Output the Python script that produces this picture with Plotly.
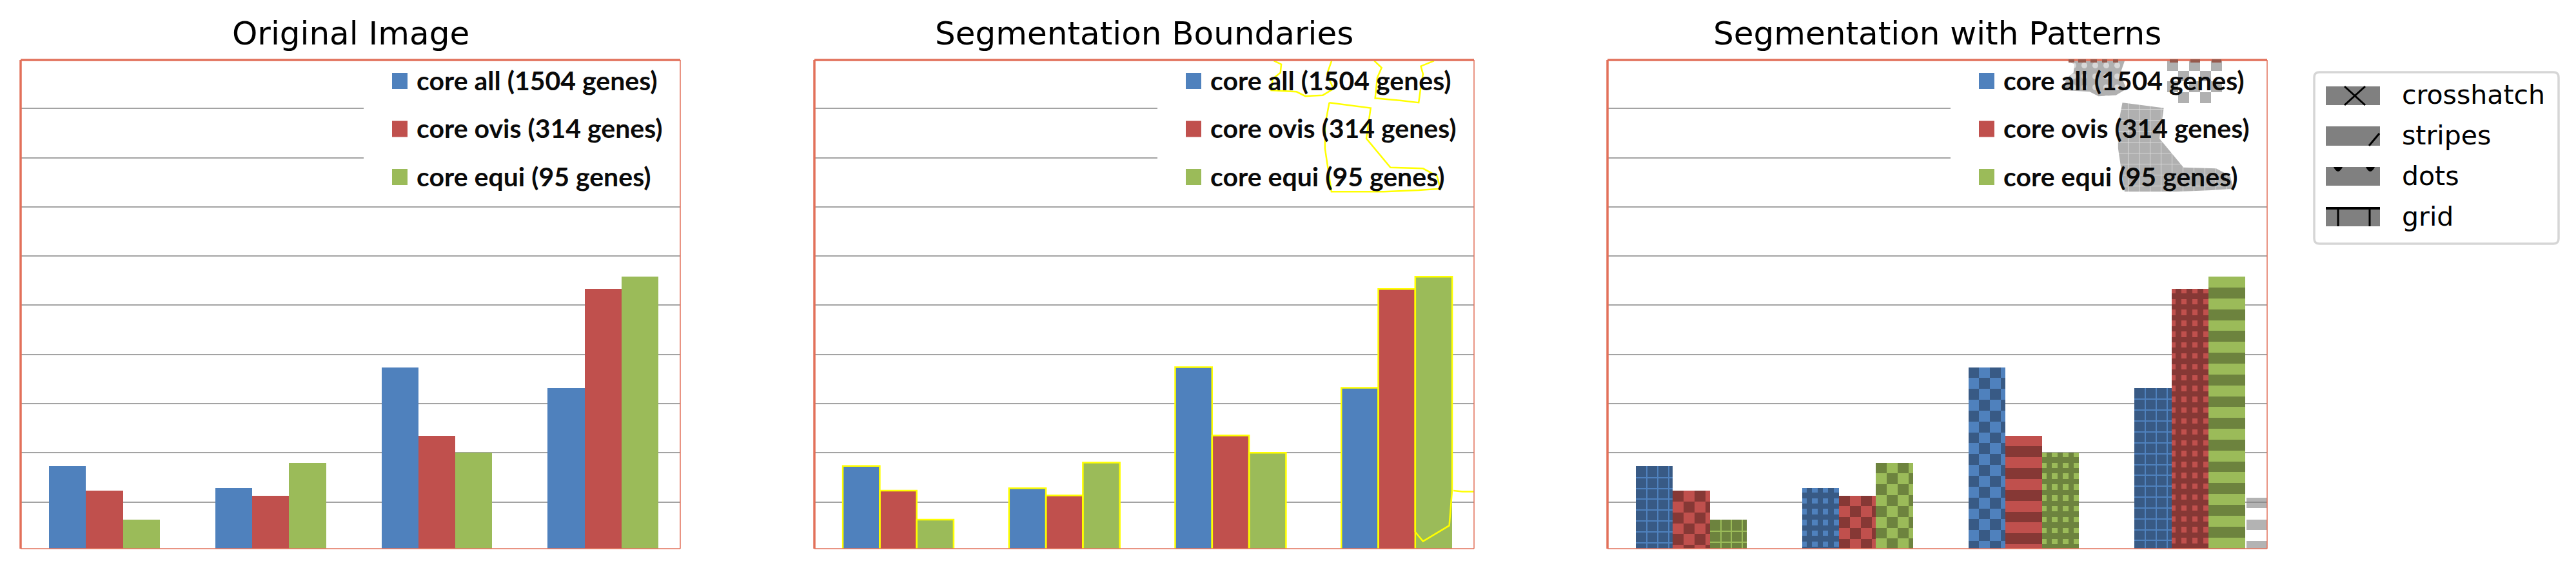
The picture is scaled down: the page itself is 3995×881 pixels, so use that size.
import plotly.graph_objects as go

# ---------- data (value axis: one unit per grid interval) ----------
GROUPS = [1, 2, 3, 4]
CORE_ALL = [1.73, 1.28, 3.74, 3.32]
CORE_OVIS = [1.23, 1.13, 2.35, 5.33]
CORE_EQUI = [0.64, 1.80, 2.00, 5.58]
SERIES_LABELS = ["core all (1504 genes)", "core ovis (314 genes)", "core equi (95 genes)"]
PATTERN_ALL = ["grid", "dots", "checker", "grid"]
PATTERN_OVIS = ["checker", "checker", "stripes", "dots"]
PATTERN_EQUI = ["grid", "checker", "dots", "stripes"]
TITLES = ["Original Image", "Segmentation Boundaries", "Segmentation with Patterns"]
KEY_LABELS = ["crosshatch", "stripes", "dots", "grid"]

# stray segments found in the legend area and at the lower right (axis units)
BLOB_A_X = [3.261, 3.305, 3.300, 3.253, 3.245, 3.319, 3.397, 3.450, 3.555, 3.619, 3.580, 3.608]
BLOB_A_Y = [9.97, 9.90, 9.73, 9.60, 9.37, 9.36, 9.34, 9.25, 9.27, 9.40, 9.70, 9.97]
BLOB_B_X = [3.865, 3.909, 3.883, 3.870, 4.027, 4.132, 4.145, 4.158, 4.145, 4.224]
BLOB_B_Y = [9.97, 9.83, 9.63, 9.21, 9.16, 9.12, 9.44, 9.70, 9.86, 9.97]
BLOB_C_X = [3.594, 3.843, 3.817, 3.962, 4.158, 4.242, 4.263, 4.132, 3.922, 3.607, 3.568, 3.568]
BLOB_C_Y = [9.12, 9.01, 8.39, 7.80, 7.78, 7.63, 7.37, 7.34, 7.31, 7.31, 8.19, 8.65]
EDGE_X = [4.341, 4.395, 4.465]
EDGE_Y = [1.23, 1.21, 1.21]
EQUI4_TAIL_X = [4.333, 4.316, 4.158, 4.111]
EQUI4_TAIL_Y = [1.23, 0.52, 0.20, 0.39]
CORNER_BAND_TOP = [1.09, 0.64, 0.21]
CORNER_BAND_BOT = [0.88, 0.43, 0.0]
CHECK_ROW = [0, 0, 0, 1, 1, 2, 2, 2, 3, 3]
CHECK_COL = [0, 2, 4, 1, 3, 0, 2, 4, 1, 3]

# ---------- style ----------
W, H = 3995, 881
PANEL_L = [32, 1263, 2493]
PANEL_W = 1023
TOP, BOT = 93, 851
X_RANGE = [0.4955, 4.465]
Y_RANGE = [0.05, 9.987]
BAR_W = 0.2223
OFFSETS = [-BAR_W, 0, BAR_W]
PX_X = PANEL_W / (X_RANGE[1] - X_RANGE[0])
PX_Y = (BOT - TOP) / (Y_RANGE[1] - Y_RANGE[0])
CELL = 16.85
LIGHT = ["#4f81bd", "#c0504d", "#9bbb59"]
DARK = ["#385a85", "#863835", "#6d833e"]
FRAME = "#e2705a"
GRID = "#a3a3a3"
YELLOW = "#ffff00"
GRAY = "rgba(128,128,128,0.6)"

VALUES = [CORE_ALL, CORE_OVIS, CORE_EQUI]
PATTERNS = [PATTERN_ALL, PATTERN_OVIS, PATTERN_EQUI]


def px(x):
    return x / W


def py(y):
    return 1 - y / H


def pattern_cells(kind, left, right, top, bottom=0.0):
    """Rectangles (x0, x1, y0, y1, is_dark) of a pattern anchored at a bar's top-left corner."""
    cx, cy = CELL / PX_X, CELL / PX_Y
    out = [(left, right, bottom, top, True)] if kind in ("grid", "dots") else []
    ncols = int((right - left) / cx) + 2
    nrows = int((top - bottom) / cy) + 2
    for r in range(nrows):
        for c in range(ncols):
            if kind == "checker":
                x0, x1 = left + c * cx, left + (c + 1) * cx
                y1, y0 = top - r * cy, top - (r + 1) * cy
                dark = (r + c) % 2 == 0
                if not dark:
                    continue
            elif kind == "stripes":
                if c or r % 2 == 0:
                    continue
                x0, x1 = left, right
                y1, y0 = top - r * cy, top - (r + 1) * cy
                dark = True
            elif kind == "dots":
                x0, x1 = left + (c * CELL - 1.5) / PX_X, left + (c * CELL + 6.9) / PX_X
                y1, y0 = top - (r * CELL - 1.5) / PX_Y, top - (r * CELL + 6.9) / PX_Y
                dark = False
            else:
                continue
            x0, x1 = max(x0, left), min(x1, right)
            y0, y1 = max(y0, bottom), min(y1, top)
            if x1 > x0 and y1 > y0:
                out.append((x0, x1, y0, y1, dark))
    if kind == "grid":
        lw = 2.0
        for c in range(1, ncols):
            x0 = left + (c * CELL - 1) / PX_X
            if x0 < right:
                out.append((x0, min(x0 + lw / PX_X, right), bottom, top, False))
        for r in range(1, nrows):
            y1 = top - (r * CELL) / PX_Y
            if y1 > bottom:
                out.append((left, right, max(y1 - lw / PX_Y, bottom), y1, False))
    return out


def cell_bars(cells, color, axis):
    return go.Bar(
        x=[(c[0] + c[1]) / 2 for c in cells],
        width=[c[1] - c[0] for c in cells],
        base=[c[2] for c in cells],
        y=[c[3] - c[2] for c in cells],
        marker=dict(color=color, line=dict(width=0)),
        xaxis=axis[0], yaxis=axis[1], showlegend=False, hoverinfo="skip",
    )


fig = go.Figure()
AXES = [("x", "y"), ("x2", "y2"), ("x3", "y3")]

# white area of the embedded legend hides the two upper grid lines, then the bars
LEGEND_LEFT = X_RANGE[0] + 532 / PX_X
LEGEND_BOTTOM = Y_RANGE[0] + (BOT - 300) / PX_Y
for ax in AXES:
    fig.add_trace(cell_bars([(LEGEND_LEFT, X_RANGE[1], LEGEND_BOTTOM, Y_RANGE[1], True)], "#ffffff", ax))
    for s, vals in enumerate(VALUES):
        fig.add_trace(go.Bar(
            x=[g + OFFSETS[s] for g in GROUPS], y=vals, width=BAR_W,
            marker=dict(color=LIGHT[s], line=dict(width=0)),
            xaxis=ax[0], yaxis=ax[1], name=SERIES_LABELS[s], showlegend=False,
        ))

# panel 2: outlines of the segments
for s, vals in enumerate(VALUES):
    for g, v in zip(GROUPS, vals):
        l = g + OFFSETS[s] - BAR_W / 2
        r = l + BAR_W
        if s == 2 and g == 4:
            xs = [l, l, r] + EQUI4_TAIL_X + [l]
            ys = [0.39, v, v] + EQUI4_TAIL_Y + [0.39]
        else:
            xs, ys = [l, l, r, r], [0, v, v, 0]
        fig.add_trace(go.Scatter(x=xs, y=ys, mode="lines", line=dict(color=YELLOW, width=2.5),
                                 xaxis="x2", yaxis="y2", showlegend=False, hoverinfo="skip"))
for bx, by, closed in [(BLOB_A_X, BLOB_A_Y, False), (BLOB_B_X, BLOB_B_Y, False),
                       (BLOB_C_X, BLOB_C_Y, True), (EDGE_X, EDGE_Y, False)]:
    fig.add_trace(go.Scatter(x=bx + bx[:1] if closed else bx, y=by + by[:1] if closed else by,
                             mode="lines", line=dict(color=YELLOW, width=2.5),
                             xaxis="x2", yaxis="y2", showlegend=False, hoverinfo="skip"))

# panel 3: patterned bars
for s, vals in enumerate(VALUES):
    dark_cells, light_cells = [], []
    for g, v, kind in zip(GROUPS, vals, PATTERNS[s]):
        l = g + OFFSETS[s] - BAR_W / 2
        for c in pattern_cells(kind, l, l + BAR_W, v):
            (dark_cells if c[4] else light_cells).append(c)
    fig.add_trace(cell_bars(dark_cells, DARK[s], AXES[2]))
    if light_cells:
        fig.add_trace(cell_bars(light_cells, LIGHT[s], AXES[2]))

# panel 3: gray stray segments
cx, cy = CELL / PX_X, CELL / PX_Y
b_left, b_top = min(BLOB_B_X), max(BLOB_B_Y) + 0.02
check = [(b_left + c * cx, b_left + (c + 1) * cx, b_top - (r + 1) * cy, b_top - r * cy, True)
         for r, c in zip(CHECK_ROW, CHECK_COL)]
fig.add_trace(cell_bars(check, "#b0b0b0", AXES[2]))
corner = [(4.34, 4.465, b, t, True) for b, t in zip(CORNER_BAND_BOT, CORNER_BAND_TOP)]
fig.add_trace(cell_bars(corner, GRAY, AXES[2]))
fig.add_trace(go.Scatter(
    x=BLOB_A_X, y=BLOB_A_Y, mode="lines", fill="toself", line=dict(width=0, color="#b0b0b0"),
    fillcolor="#b0b0b0",
    fillpattern=dict(shape=".", bgcolor="#b0b0b0", fgcolor="#ffffff", size=17, solidity=0.22),
    xaxis="x3", yaxis="y3", showlegend=False, hoverinfo="skip",
))
fig.add_trace(go.Scatter(
    x=BLOB_C_X, y=BLOB_C_Y, mode="lines", fill="toself", line=dict(width=0, color="#b0b0b0"),
    fillcolor="#b0b0b0",
    fillpattern=dict(shape="+", bgcolor="#b0b0b0", fgcolor="#ffffff", size=17, solidity=0.12),
    xaxis="x3", yaxis="y3", showlegend=False, hoverinfo="skip",
))

shapes, annotations = [], []


def line(x0, y0, x1, y1, color, width):
    shapes.append(dict(type="line", xref="paper", yref="paper", x0=px(x0), x1=px(x1),
                       y0=py(y0), y1=py(y1), line=dict(color=color, width=width)))


def rect(x0, y0, x1, y1, color, layer="above"):
    shapes.append(dict(type="rect", xref="paper", yref="paper", x0=px(x0), x1=px(x1),
                       y0=py(y0), y1=py(y1), fillcolor=color, line=dict(width=0), layer=layer))


for i, L in enumerate(PANEL_L):
    line(L, TOP, L + PANEL_W, TOP, FRAME, 3.5)
    line(L, TOP, L, BOT, FRAME, 3.5)
    line(L + PANEL_W, TOP, L + PANEL_W, BOT, FRAME, 1.5)
    line(L, BOT, L + PANEL_W, BOT, FRAME, 1.5)
    annotations.append(dict(text=TITLES[i], xref="paper", yref="paper", x=px(L + PANEL_W / 2), y=py(52),
                            xanchor="center", yanchor="middle", showarrow=False,
                            font=dict(family="DejaVu Sans", size=50, color="#000000")))
    for s, label in enumerate(SERIES_LABELS):
        yc = 125.5 + 74.5 * s
        rect(L + 576, yc - 12.5, L + 600, yc + 12.5, LIGHT[s])
        annotations.append(dict(text="<b>%s</b>" % label, xref="paper", yref="paper", x=px(L + 613), y=py(yc - 1),
                                xanchor="left", yanchor="middle", showarrow=False, borderpad=0,
                                font=dict(family="Lato", size=41, color="#0a0a0a")))

# darker marks where the patterned segments run over the top frame of panel 3
for x0, x1 in [(3208, 3217), (3223, 3235), (3242, 3252), (3260, 3268), (3277, 3285),
               (3365, 3378), (3397, 3412), (3430, 3445)]:
    rect(x0, 92, x1, 97, "#96594c")

# key at the right
bx0, by0, bx1, by1, rad = 3589, 112, 3968, 378, 8
path = (f"M {px(bx0+rad)} {py(by0)} L {px(bx1-rad)} {py(by0)} Q {px(bx1)} {py(by0)} {px(bx1)} {py(by0+rad)} "
        f"L {px(bx1)} {py(by1-rad)} Q {px(bx1)} {py(by1)} {px(bx1-rad)} {py(by1)} "
        f"L {px(bx0+rad)} {py(by1)} Q {px(bx0)} {py(by1)} {px(bx0)} {py(by1-rad)} "
        f"L {px(bx0)} {py(by0+rad)} Q {px(bx0)} {py(by0)} {px(bx0+rad)} {py(by0)} Z")
shapes.append(dict(type="path", xref="paper", yref="paper", path=path, fillcolor="#ffffff",
                   line=dict(color="#d6d6d6", width=3.5)))
key_y = [(134, 163), (196, 226), (259, 288), (322, 351)]
for (y0, y1), label in zip(key_y, KEY_LABELS):
    rect(3607, y0, 3691, y1, "#808080")
    annotations.append(dict(text=label, xref="paper", yref="paper", x=px(3724), y=py((y0 + y1) / 2 - 1),
                            xanchor="left", yanchor="middle", showarrow=False, borderpad=0,
                            font=dict(family="DejaVu Sans", size=41, color="#000000")))
line(3636, 134, 3668, 163, "#000000", 3)
line(3636, 163, 3668, 134, "#000000", 3)
line(3674, 226, 3690, 207, "#000000", 3)
for xc in (3626, 3676):
    shapes.append(dict(type="path", xref="paper", yref="paper", fillcolor="#000000", line=dict(width=0),
                       path=f"M {px(xc-7)} {py(259)} Q {px(xc)} {py(273)} {px(xc+7)} {py(259)} Z"))
line(3607, 323, 3691, 323, "#000000", 4)
line(3626, 323, 3626, 351, "#000000", 3)
line(3675, 323, 3675, 351, "#000000", 3)

layout = dict(
    width=W, height=H, margin=dict(l=0, r=0, t=0, b=0), barmode="overlay", bargap=0,
    paper_bgcolor="#ffffff", plot_bgcolor="#ffffff", showlegend=False,
    shapes=shapes, annotations=annotations,
)
for i, L in enumerate(PANEL_L):
    sfx = "" if i == 0 else str(i + 1)
    layout["xaxis" + sfx] = dict(domain=[px(L), px(L + PANEL_W)], range=X_RANGE, visible=False,
                                 anchor="y" + sfx, fixedrange=True)
    layout["yaxis" + sfx] = dict(domain=[py(BOT), py(TOP)], range=Y_RANGE, anchor="x" + sfx,
                                 tick0=0, dtick=1, showgrid=True, gridcolor=GRID, gridwidth=2,
                                 showticklabels=False, ticks="", zeroline=False, showline=False,
                                 fixedrange=True)
fig.update_layout(**layout)
fig.write_html("out.html", config={"displayModeBar": False},
               post_script="document.body.style.margin='0';document.body.style.overflow='hidden';")
